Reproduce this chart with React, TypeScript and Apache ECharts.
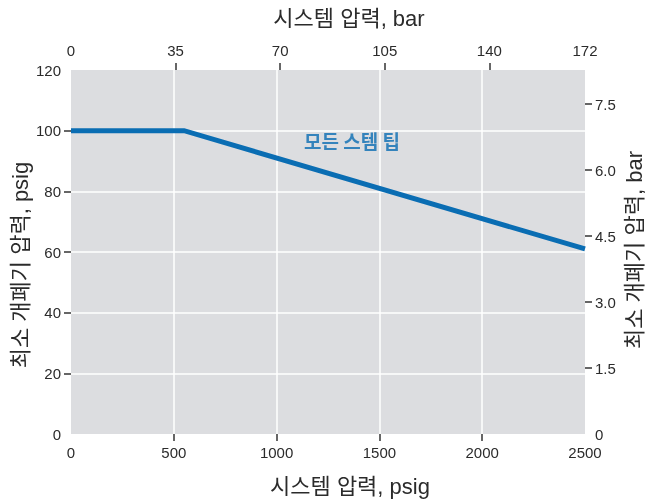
import React, { useEffect, useRef } from "react";
import * as echarts from "echarts";

const psigTicks = [0, 500, 1000, 1500, 2000, 2500];
const psiTicks = [0, 20, 40, 60, 80, 100, 120];
const barTopLabels = [0, 35, 70, 105, 140, 172];
const barRightLabels = [0, 1.5, 3.0, 4.5, 6.0, 7.5];
const lineX = [0, 550, 2500];
const lineY = [100, 100, 61];
const seriesName = "모든 스템 팁";
const labelPos = [1367, 96.8];
const titleTop = "시스템 압력, bar";
const titleBottom = "시스템 압력, psig";
const titleLeft = "최소 개폐기 압력, psig";
const titleRight = "최소 개폐기 압력, bar";

const FONT = "'Liberation Sans', Arial, 'Noto Sans CJK KR', sans-serif";
const TXT = "#2b2b2b";
const BLUE = "#0a6db3";

export default function App() {
  const ref = useRef<HTMLDivElement>(null);
  useEffect(() => {
    const chart = echarts.init(ref.current!, null, { renderer: "svg" });
    const tickStyle = { show: true, inside: false, length: 7, lineStyle: { color: "#333", width: 1.5 } };
    const hiddenLine = { show: false, onZero: false };
    const white = { show: true, lineStyle: { color: "#ffffff", width: 1.5 } };
    const titleStyle = (text: string) => ({
      text, fill: TXT, fontSize: 22, fontFamily: FONT, align: "center", verticalAlign: "middle",
    });
    chart.setOption({
      animation: false,
      textStyle: { fontFamily: FONT },
      grid: {
        left: 71, right: 61, top: 70, bottom: 67,
        containLabel: false, outerBoundsMode: "none",
        show: true, backgroundColor: "#dcdde0", borderWidth: 0,
      },
      graphic: [
        { type: "text", x: 349, y: 18, style: titleStyle(titleTop) },
        { type: "text", x: 350, y: 486, style: titleStyle(titleBottom) },
        { type: "text", x: 20, y: 265, rotation: Math.PI / 2, style: titleStyle(titleLeft) },
        { type: "text", x: 634, y: 250, rotation: Math.PI / 2, style: titleStyle(titleRight) },
      ],
      xAxis: [
        {
          type: "value", position: "bottom", min: 0, max: 2500,
          axisLine: hiddenLine, axisTick: { show: false },
          axisLabel: {
            color: TXT, fontSize: 15, margin: 11, customValues: psigTicks, fontFamily: FONT,
            formatter: (v: number) => String(v),
          },
          splitLine: { show: false },
        },
        {
          type: "value", position: "top", min: 0, max: 172,
          axisLine: hiddenLine,
          axisTick: { ...tickStyle, customValues: barTopLabels.slice(1, -1) },
          axisLabel: {
            color: TXT, fontSize: 15, margin: 12, customValues: barTopLabels, fontFamily: FONT,
            formatter: (v: number) => String(v),
          },
          splitLine: { show: false },
        },
        {
          type: "value", position: "bottom", min: 0, max: 2500,
          axisLine: hiddenLine,
          axisTick: { ...tickStyle, customValues: psigTicks.slice(1, -1) },
          axisLabel: { show: false },
          splitLine: white,
        },
      ],
      yAxis: [
        {
          type: "value", position: "left", min: 0, max: 120,
          axisLine: hiddenLine, axisTick: { show: false },
          axisLabel: { color: TXT, fontSize: 15, margin: 10, fontFamily: FONT, customValues: psiTicks },
          splitLine: { show: false },
        },
        {
          type: "value", position: "right", min: 0, max: 120 / 14.5038,
          axisLine: hiddenLine,
          axisTick: { ...tickStyle, customValues: barRightLabels.slice(1) },
          axisLabel: {
            color: TXT, fontSize: 15, margin: 10, fontFamily: FONT,
            customValues: barRightLabels,
            formatter: (v: number) => (v === 0 ? "0" : v.toFixed(1)),
          },
          splitLine: { show: false },
        },
        {
          type: "value", position: "left", min: 0, max: 120,
          axisLine: hiddenLine,
          axisTick: { ...tickStyle, customValues: psiTicks.slice(1, -1) },
          axisLabel: { show: false },
          splitLine: white,
        },
      ],
      series: [
        {
          name: seriesName,
          type: "line",
          xAxisIndex: 0, yAxisIndex: 0,
          data: lineX.map((x, i) => [x, lineY[i]]),
          symbol: "none",
          lineStyle: { color: BLUE, width: 5, join: "miter" },
        },
        {
          type: "scatter",
          xAxisIndex: 0, yAxisIndex: 0,
          data: [labelPos],
          symbolSize: 2,
          itemStyle: { color: "rgba(0,0,0,0)" },
          label: {
            show: true, position: "inside", formatter: seriesName,
            color: BLUE, fontWeight: "bold", fontSize: 19, fontFamily: "'Noto Sans CJK KR', sans-serif",
          },
          silent: true,
        },
      ],
    });
    return () => chart.dispose();
  }, []);
  return <div ref={ref} style={{ position: "fixed", left: 0, top: 0, width: 646, height: 501 }} />;
}
